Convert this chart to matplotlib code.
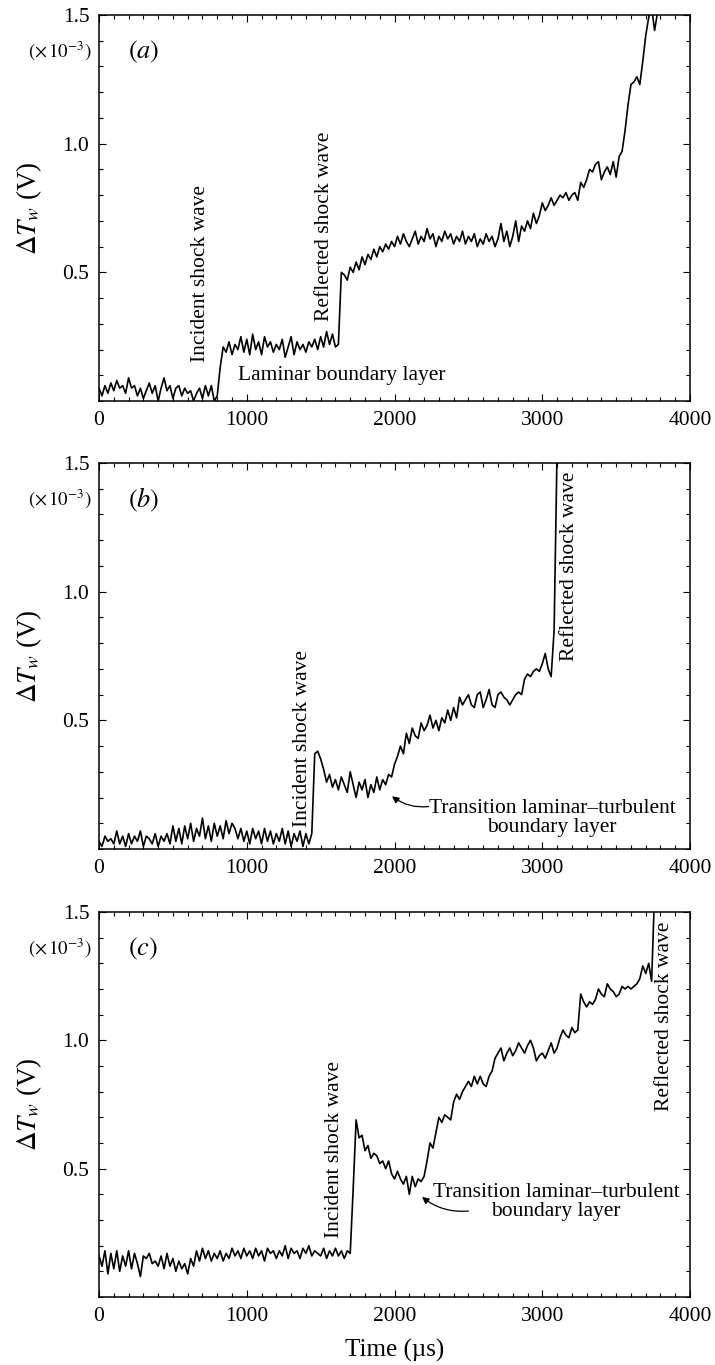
import numpy as np
import matplotlib
matplotlib.use('agg')
import matplotlib.pyplot as plt
from matplotlib.ticker import MultipleLocator

plt.rcParams['font.family'] = ['Liberation Serif', 'DejaVu Serif']
plt.rcParams['mathtext.fontset'] = 'stix'

STEP = 20  # sampling interval of the traces (µs)

# panel (a) wall temperature signal, x 1e-3 V, t = 0, 20, 40, ...
dtw_a = [
    0.05, 0.02, 0.06, 0.03, 0.07, 0.04, 0.08, 0.05, 0.06, 0.03,
    0.09, 0.05, 0.06, 0.02, 0.05, 0.01, 0.04, 0.07, 0.03, 0.06,
    0.00, 0.05, 0.09, 0.04, 0.06, 0.01, 0.05, 0.06, 0.02, 0.05,
    0.03, 0.04, 0.00, 0.03, 0.05, 0.01, 0.06, 0.02, 0.06, 0.00,
    0.02, 0.13, 0.21, 0.19, 0.23, 0.18, 0.22, 0.20, 0.25, 0.19,
    0.24, 0.18, 0.26, 0.20, 0.23, 0.18, 0.25, 0.21, 0.23, 0.19,
    0.22, 0.20, 0.24, 0.17, 0.21, 0.25, 0.18, 0.23, 0.20, 0.22,
    0.19, 0.23, 0.21, 0.24, 0.20, 0.25, 0.21, 0.27, 0.22, 0.26,
    0.21, 0.22, 0.50, 0.49, 0.47, 0.52, 0.50, 0.54, 0.51, 0.56,
    0.53, 0.57, 0.55, 0.59, 0.56, 0.60, 0.58, 0.61, 0.59, 0.62,
    0.60, 0.64, 0.61, 0.65, 0.62, 0.60, 0.63, 0.66, 0.61, 0.64,
    0.62, 0.67, 0.63, 0.65, 0.60, 0.64, 0.62, 0.66, 0.63, 0.65,
    0.61, 0.64, 0.62, 0.66, 0.61, 0.64, 0.62, 0.65, 0.60, 0.63,
    0.61, 0.65, 0.62, 0.64, 0.60, 0.63, 0.69, 0.62, 0.66, 0.60,
    0.64, 0.70, 0.62, 0.68, 0.66, 0.70, 0.67, 0.73, 0.69, 0.72,
    0.77, 0.74, 0.76, 0.79, 0.76, 0.78, 0.80, 0.79, 0.81, 0.78,
    0.80, 0.81, 0.78, 0.85, 0.83, 0.86, 0.90, 0.89, 0.92, 0.93,
    0.86, 0.89, 0.91, 0.88, 0.93, 0.87, 0.95, 0.97, 1.05, 1.15,
    1.23, 1.24, 1.26, 1.23, 1.32, 1.42, 1.49, 1.53, 1.44, 1.51,
    1.62,
]

# panel (b)
dtw_b = [
    0.03, 0.01, 0.05, 0.03, 0.04, 0.02, 0.07, 0.02, 0.05, 0.01,
    0.06, 0.02, 0.05, 0.03, 0.07, 0.01, 0.05, 0.04, 0.02, 0.06,
    0.01, 0.05, 0.03, 0.06, 0.02, 0.09, 0.03, 0.08, 0.02, 0.09,
    0.04, 0.10, 0.03, 0.08, 0.05, 0.12, 0.04, 0.09, 0.03, 0.10,
    0.05, 0.09, 0.04, 0.11, 0.06, 0.10, 0.08, 0.04, 0.08, 0.03,
    0.07, 0.02, 0.08, 0.04, 0.07, 0.02, 0.08, 0.03, 0.07, 0.02,
    0.06, 0.03, 0.08, 0.02, 0.07, 0.01, 0.06, 0.03, 0.07, 0.01,
    0.06, 0.02, 0.06, 0.37, 0.38, 0.35, 0.31, 0.26, 0.29, 0.24,
    0.27, 0.23, 0.28, 0.25, 0.22, 0.30, 0.25, 0.20, 0.26, 0.23,
    0.27, 0.20, 0.25, 0.22, 0.28, 0.23, 0.27, 0.25, 0.29, 0.28,
    0.33, 0.36, 0.40, 0.37, 0.45, 0.41, 0.47, 0.44, 0.43, 0.49,
    0.46, 0.48, 0.52, 0.47, 0.50, 0.46, 0.51, 0.49, 0.54, 0.50,
    0.55, 0.51, 0.59, 0.56, 0.58, 0.60, 0.56, 0.55, 0.60, 0.61,
    0.55, 0.58, 0.62, 0.56, 0.55, 0.60, 0.61, 0.59, 0.58, 0.56,
    0.58, 0.60, 0.61, 0.60, 0.66, 0.68, 0.67, 0.69, 0.70, 0.69,
    0.72, 0.76, 0.70, 0.67, 0.85, 1.55,
]

# panel (c)
dtw_c = [
    0.16, 0.12, 0.18, 0.09, 0.17, 0.11, 0.18, 0.10, 0.16, 0.12,
    0.18, 0.11, 0.17, 0.13, 0.08, 0.16, 0.15, 0.17, 0.13, 0.14,
    0.12, 0.16, 0.11, 0.17, 0.12, 0.15, 0.10, 0.14, 0.11, 0.13,
    0.09, 0.15, 0.12, 0.18, 0.14, 0.19, 0.15, 0.18, 0.14, 0.17,
    0.15, 0.18, 0.14, 0.17, 0.15, 0.19, 0.16, 0.18, 0.15, 0.19,
    0.16, 0.18, 0.15, 0.19, 0.16, 0.18, 0.14, 0.19, 0.17, 0.18,
    0.15, 0.18, 0.16, 0.20, 0.15, 0.19, 0.17, 0.18, 0.15, 0.19,
    0.17, 0.20, 0.16, 0.18, 0.17, 0.16, 0.19, 0.15, 0.18, 0.16,
    0.19, 0.16, 0.18, 0.15, 0.18, 0.17, 0.42, 0.69, 0.62, 0.63,
    0.57, 0.59, 0.54, 0.56, 0.55, 0.52, 0.53, 0.50, 0.53, 0.48,
    0.46, 0.49, 0.46, 0.44, 0.47, 0.40, 0.47, 0.43, 0.46, 0.45,
    0.47, 0.53, 0.60, 0.58, 0.64, 0.70, 0.68, 0.71, 0.70, 0.69,
    0.76, 0.79, 0.77, 0.80, 0.82, 0.84, 0.82, 0.86, 0.83, 0.86,
    0.83, 0.82, 0.86, 0.88, 0.93, 0.95, 0.97, 0.92, 0.95, 0.97,
    0.94, 0.96, 0.99, 0.97, 0.95, 0.98, 1.00, 0.97, 0.92, 0.94,
    0.95, 0.93, 0.96, 0.99, 0.95, 0.97, 1.01, 1.04, 1.02, 1.01,
    1.05, 1.03, 1.04, 1.18, 1.15, 1.13, 1.15, 1.14, 1.16, 1.20,
    1.18, 1.17, 1.22, 1.20, 1.19, 1.17, 1.18, 1.21, 1.20, 1.21,
    1.20, 1.21, 1.22, 1.24, 1.29, 1.26, 1.30, 1.23, 1.58,
]

panel_letters = ['a', 'b', 'c']
x_ticks = [0, 1000, 2000, 3000, 4000]
y_ticks = [0.5, 1.0, 1.5]

# rotated shock labels: (time, bottom value, text)
shock_labels = [
    [(686, 0.15, 'Incident shock wave'), (1524, 0.31, 'Reflected shock wave')],
    [(1375, 0.085, 'Incident shock wave'), (3186, 0.73, 'Reflected shock wave')],
    [(1592, 0.23, 'Incident shock wave'), (3829, 0.725, 'Reflected shock wave')],
]
transition_text = 'Transition laminar\u2013turbulent\nboundary layer'

fig = plt.figure(figsize=(7.15, 13.65), dpi=100)
rects = [
    [0.1385, 0.7062, 0.8266, 0.2828],
    [0.1385, 0.3780, 0.8266, 0.2828],
    [0.1385, 0.0498, 0.8266, 0.2821],
]

arrow_kw = dict(arrowstyle='-|>', color='k', lw=0.9, mutation_scale=10,
                shrinkA=0, shrinkB=0, connectionstyle='arc3,rad=-0.2')

for i, (rect, vals) in enumerate(zip(rects, [dtw_a, dtw_b, dtw_c])):
    ax = fig.add_axes(rect)
    t = np.arange(len(vals)) * STEP
    ax.plot(t, vals, color='k', lw=1.2)
    ax.set_xlim(0, 4000)
    ax.set_ylim(0, 1.5)
    ax.set_xticks(x_ticks)
    ax.set_yticks(y_ticks)
    ax.xaxis.set_minor_locator(MultipleLocator(100))
    ax.yaxis.set_minor_locator(MultipleLocator(0.1))
    ax.tick_params(which='both', direction='in', top=True, right=True,
                   width=0.8, labelsize=15.5)
    ax.tick_params(which='major', length=5, pad=7)
    ax.tick_params(which='minor', length=3)
    for s in ax.spines.values():
        s.set_linewidth(1.1)

    ax.text(0.049, 0.904, r'$(\mathit{' + panel_letters[i] + r'})$',
            transform=ax.transAxes, fontsize=19, ha='left', va='center')
    ax.text(-0.012, 0.905, r'$(\times\,10^{-3})$', transform=ax.transAxes,
            fontsize=13.5, ha='right', va='center')
    ax.text(-0.118, 0.5, r'$\Delta T_w$ (V)', transform=ax.transAxes,
            fontsize=19.5, rotation=90, ha='center', va='center')

    for (tx, ty, s) in shock_labels[i]:
        ax.text(tx, ty, s, rotation=90, ha='center', va='bottom', fontsize=15.5)

    if i == 0:
        ax.text(940, 0.10, 'Laminar boundary layer', ha='left', va='center',
                fontsize=15.5)
    elif i == 1:
        ax.text(3065, 0.12, transition_text, ha='center', va='center',
                fontsize=15.5, linespacing=1.0)
        ax.annotate('', xy=(1983, 0.205), xytext=(2230, 0.165),
                    arrowprops=arrow_kw)
    else:
        ax.text(3094, 0.37, transition_text, ha='center', va='center',
                fontsize=15.5, linespacing=1.0)
        ax.annotate('', xy=(2186, 0.39), xytext=(2500, 0.335),
                    arrowprops=arrow_kw)

fig.text(394.5 / 715, 1 - 1350 / 1365, 'Time (\u00b5s)', ha='center',
         va='center', fontsize=18)

fig.savefig('out.png', dpi=100)
